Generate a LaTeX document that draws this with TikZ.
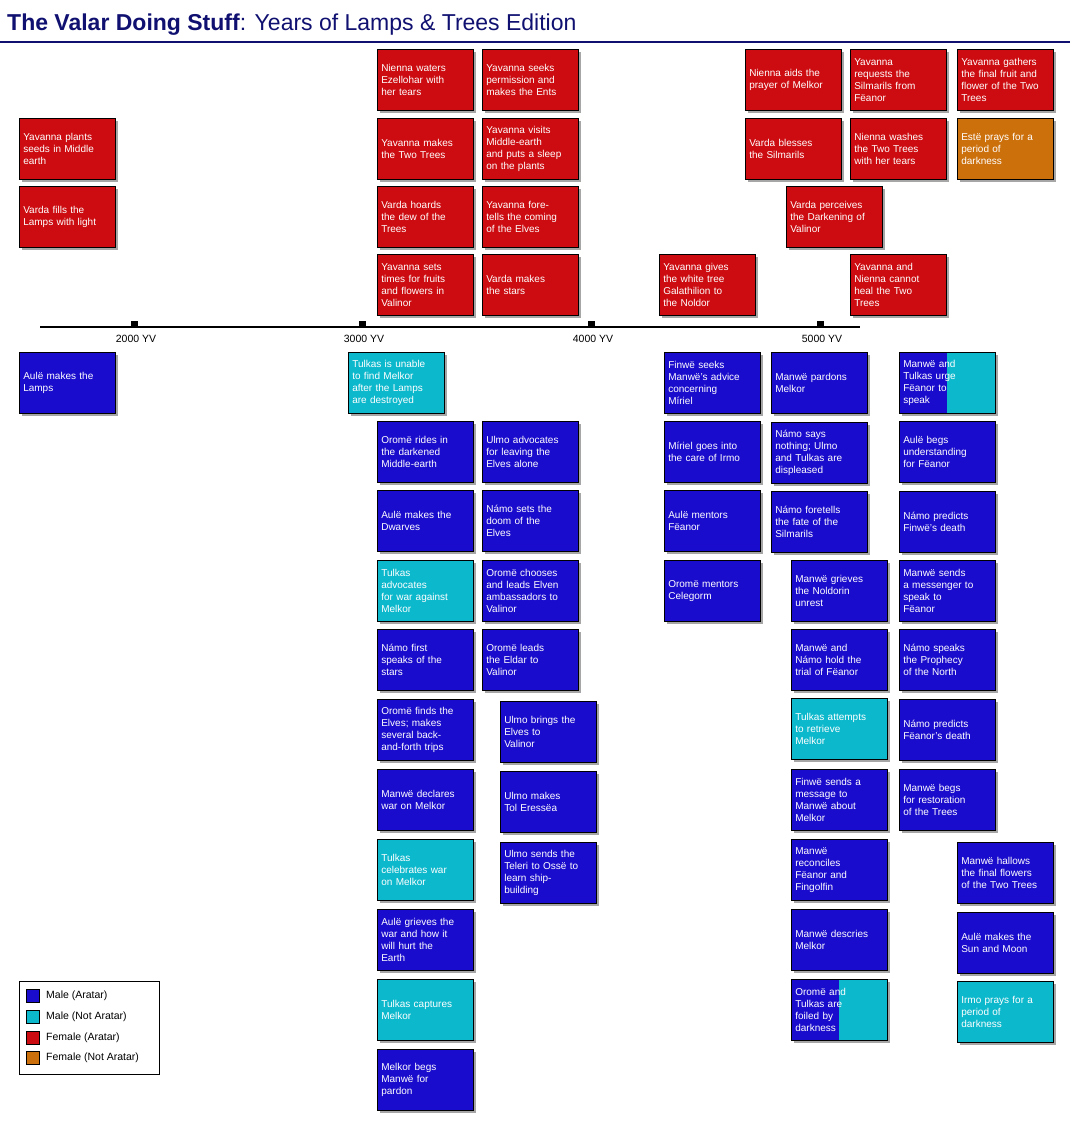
\documentclass[tikz,border=0pt]{standalone}
\usepackage{fontspec}
\setmainfont{Liberation Sans}
\usetikzlibrary{shadows}
\definecolor{vred}{HTML}{CC0C10}
\definecolor{vblue}{HTML}{1A0CCC}
\definecolor{vcyan}{HTML}{0CB8CC}
\definecolor{vorange}{HTML}{CC700C}
\definecolor{navy}{HTML}{0F1070}
\newcommand\bx[5]{\node[vbox,fill=#4] (#1) at (#2,#3) {#5};}
\newcommand\sbx[4]{\node[vbox,fill=vblue,path picture={\fill[vcyan] ([xshift=48pt]path picture bounding box.north west) rectangle (path picture bounding box.south east);}] (#1) at (#2,#3) {#4};}
\begin{document}
\begin{tikzpicture}[x=1pt,y=-1pt,
 vbox/.style={draw=black,line width=0.6pt,anchor=north west,minimum width=96pt,minimum height=61pt,text width=88pt,inner sep=4pt,align=left,text=white,font=\fontsize{10}{12}\selectfont,drop shadow={shadow xshift=3pt,shadow yshift=-3pt,opacity=0.35,fill=black}},
 tick/.style={fill=black,minimum size=7pt,inner sep=0pt},
 yl/.style={font=\fontsize{10.5}{12}\selectfont},
 sw/.style={minimum size=13pt,inner sep=0pt,draw=black,line width=0.4pt},
 lt/.style={anchor=west,font=\fontsize{10.5}{12}\selectfont,inner sep=0pt}]
\useasboundingbox (0,0) rectangle (1070,1124);
\node[anchor=west,text=navy,font=\fontsize{23}{26}\selectfont,inner sep=0pt] (title) at (7,25) {\textbf{The Valar Doing Stuff}: Years of Lamps \& Trees Edition};
\draw[navy,line width=2.2pt] (0,42) -- (1070,42);
% timeline
\coordinate (tl0) at (40,327); \coordinate (tl1) at (860,327);
\draw[line width=2.5pt] (tl0) -- (tl1);
\node[tick] (t2) at (134,324) {}; \node[tick] (t3) at (362,324) {};
\node[tick] (t4) at (591,324) {}; \node[tick] (t5) at (820,324) {};
\node[yl] (l2) at (136,339) {2000 YV}; \node[yl] (l3) at (364,339) {3000 YV};
\node[yl] (l4) at (593,339) {4000 YV}; \node[yl] (l5) at (822,339) {5000 YV};
% top red
\bx{r1}{19}{118}{vred}{Yavanna plants\\seeds in Middle\\earth}
\bx{r2}{19}{186}{vred}{Varda fills the\\Lamps with light}
\bx{r3}{377}{49}{vred}{Nienna waters\\Ezellohar with\\her tears}
\bx{r4}{482}{49}{vred}{Yavanna seeks\\permission and\\makes the Ents}
\bx{r5}{377}{118}{vred}{Yavanna makes\\the Two Trees}
\bx{r6}{482}{118}{vred}{Yavanna visits\\Middle-earth\\and puts a sleep\\on the plants}
\bx{r7}{377}{186}{vred}{Varda hoards\\the dew of the\\Trees}
\bx{r8}{482}{186}{vred}{Yavanna fore-\\tells the coming\\of the Elves}
\bx{r9}{377}{254}{vred}{Yavanna sets\\times for fruits\\and flowers in\\Valinor}
\bx{r10}{482}{254}{vred}{Varda makes\\the stars}
\bx{r11}{659}{254}{vred}{Yavanna gives\\the white tree\\Galathilion to\\the Noldor}
\bx{r12}{745}{49}{vred}{Nienna aids the\\prayer of Melkor}
\bx{r13}{850}{49}{vred}{Yavanna\\requests the\\Silmarils from\\Fëanor}
\bx{r14}{957}{49}{vred}{Yavanna gathers\\the final fruit and\\flower of the Two\\Trees}
\bx{r15}{745}{118}{vred}{Varda blesses\\the Silmarils}
\bx{r16}{850}{118}{vred}{Nienna washes\\the Two Trees\\with her tears}
\bx{r17}{957}{118}{vorange}{Estë prays for a\\period of\\darkness}
\bx{r18}{786}{186}{vred}{Varda perceives\\the Darkening of\\Valinor}
\bx{r19}{850}{254}{vred}{Yavanna and\\Nienna cannot\\heal the Two\\Trees}
% bottom
\bx{b1}{19}{352}{vblue}{Aulë makes the\\Lamps}
\bx{b2}{348}{352}{vcyan}{Tulkas is unable\\to find Melkor\\after the Lamps\\are destroyed}
\bx{c1}{377}{421}{vblue}{Oromë rides in\\the darkened\\Middle-earth}
\bx{c2}{377}{490}{vblue}{Aulë makes the\\Dwarves}
\bx{c3}{377}{560}{vcyan}{Tulkas\\advocates\\for war against\\Melkor}
\bx{c4}{377}{629}{vblue}{Námo first\\speaks of the\\stars}
\bx{c5}{377}{699}{vblue}{Oromë finds the\\Elves; makes\\several back-\\and-forth trips}
\bx{c6}{377}{769}{vblue}{Manwë declares\\war on Melkor}
\bx{c7}{377}{839}{vcyan}{Tulkas\\celebrates war\\on Melkor}
\bx{c8}{377}{909}{vblue}{Aulë grieves the\\war and how it\\will hurt the\\Earth}
\bx{c9}{377}{979}{vcyan}{Tulkas captures\\Melkor}
\bx{c10}{377}{1049}{vblue}{Melkor begs\\Manwë for\\pardon}
\bx{d1}{482}{421}{vblue}{Ulmo advocates\\for leaving the\\Elves alone}
\bx{d2}{482}{490}{vblue}{Námo sets the\\doom of the\\Elves}
\bx{d3}{482}{560}{vblue}{Oromë chooses\\and leads Elven\\ambassadors to\\Valinor}
\bx{d4}{482}{629}{vblue}{Oromë leads\\the Eldar to\\Valinor}
\bx{e1}{500}{701}{vblue}{Ulmo brings the\\Elves to\\Valinor}
\bx{e2}{500}{771}{vblue}{Ulmo makes\\Tol Eressëa}
\bx{e3}{500}{842}{vblue}{Ulmo sends the\\Teleri to Ossë to\\learn ship-\\building}
\bx{f1}{664}{352}{vblue}{Finwë seeks\\Manwë's advice\\concerning\\Míriel}
\bx{f2}{664}{421}{vblue}{Míriel goes into\\the care of Irmo}
\bx{f3}{664}{490}{vblue}{Aulë mentors\\Fëanor}
\bx{f4}{664}{560}{vblue}{Oromë mentors\\Celegorm}
\bx{g1}{771}{352}{vblue}{Manwë pardons\\Melkor}
\bx{g2}{771}{422}{vblue}{Námo says\\nothing; Ulmo\\and Tulkas are\\displeased}
\bx{g3}{771}{491}{vblue}{Námo foretells\\the fate of the\\Silmarils}
\bx{h1}{791}{560}{vblue}{Manwë grieves\\the Noldorin\\unrest}
\bx{h2}{791}{629}{vblue}{Manwë and\\Námo hold the\\trial of Fëanor}
\bx{h3}{791}{698}{vcyan}{Tulkas attempts\\to retrieve\\Melkor}
\bx{h4}{791}{769}{vblue}{Finwë sends a\\message to\\Manwë about\\Melkor}
\bx{h5}{791}{839}{vblue}{Manwë\\reconciles\\Fëanor and\\Fingolfin}
\bx{h6}{791}{909}{vblue}{Manwë descries\\Melkor}
\sbx{h7}{791}{979}{Oromë and\\Tulkas are\\foiled by\\darkness}
\sbx{i1}{899}{352}{Manwë and\\Tulkas urge\\Fëanor to\\speak}
\bx{i2}{899}{421}{vblue}{Aulë begs\\understanding\\for Fëanor}
\bx{i3}{899}{491}{vblue}{Námo predicts\\Finwë's death}
\bx{i4}{899}{560}{vblue}{Manwë sends\\a messenger to\\speak to\\Fëanor}
\bx{i5}{899}{629}{vblue}{Námo speaks\\the Prophecy\\of the North}
\bx{i6}{899}{699}{vblue}{Námo predicts\\Fëanor's death}
\bx{i7}{899}{769}{vblue}{Manwë begs\\for restoration\\of the Trees}
\bx{j1}{957}{842}{vblue}{Manwë hallows\\the final flowers\\of the Two Trees}
\bx{j2}{957}{912}{vblue}{Aulë makes the\\Sun and Moon}
\bx{j3}{957}{981}{vcyan}{Irmo prays for a\\period of\\darkness}
% legend
\node[draw=black,line width=0.5pt,fill=white,anchor=north west,minimum width=140pt,minimum height=93pt,inner sep=0pt] (leg) at (19,981) {};
\node[sw,fill=vblue] (s1) at (33,996) {}; \node[lt] (x1) at (46,996) {Male (Aratar)};
\node[sw,fill=vcyan] (s2) at (33,1017) {}; \node[lt] (x2) at (46,1017) {Male (Not Aratar)};
\node[sw,fill=vred] (s3) at (33,1038) {}; \node[lt] (x3) at (46,1038) {Female (Aratar)};
\node[sw,fill=vorange] (s4) at (33,1058) {}; \node[lt] (x4) at (46,1058) {Female (Not Aratar)};
\end{tikzpicture}
\end{document}
